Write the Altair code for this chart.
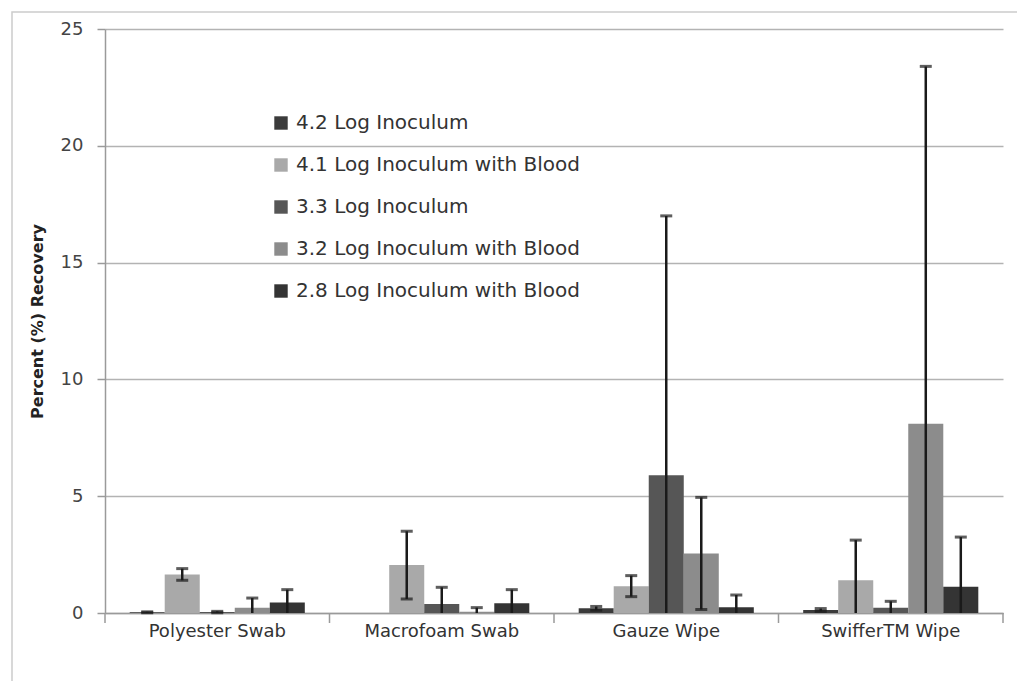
import altair as alt
import pandas as pd

categories = ["Polyester Swab", "Macrofoam Swab", "Gauze Wipe", "SwifferTM Wipe"]
series = [
    "4.2 Log Inoculum",
    "4.1 Log Inoculum with Blood",
    "3.3 Log Inoculum",
    "3.2 Log Inoculum with Blood",
    "2.8 Log Inoculum with Blood",
]
colors = ["#3b3b3b", "#a9a9a9", "#565656", "#8c8c8c", "#343434"]

# mean percent recovery per series, in category order
rec_42 = [0.03, 0.00, 0.20, 0.13]
rec_41 = [1.65, 2.05, 1.15, 1.40]
rec_33 = [0.04, 0.38, 5.90, 0.22]
rec_32 = [0.22, 0.05, 2.55, 8.10]
rec_28 = [0.45, 0.42, 0.25, 1.12]

# standard deviation per series, in category order
sd_42 = [0.02, 0.00, 0.08, 0.06]
sd_41 = [0.25, 1.45, 0.45, 1.72]
sd_33 = [0.03, 0.72, 11.10, 0.28]
sd_32 = [0.42, 0.18, 2.40, 15.30]
sd_28 = [0.55, 0.58, 0.52, 2.13]

y_ticks = [0, 5, 10, 15, 20, 25]
boundaries = [0, 1, 2, 3, 4]

means = [rec_42, rec_41, rec_33, rec_32, rec_28]
sds = [sd_42, sd_41, sd_33, sd_32, sd_28]

rows = []
for s, m_list, sd_list in zip(series, means, sds):
    for c, m, sd in zip(categories, m_list, sd_list):
        rows.append({
            "Category": c,
            "Series": s,
            "Recovery": m,
            "SD": sd,
            "Low": max(0.0, m - sd),
            "High": m + sd,
        })
df = pd.DataFrame(rows)

W, H = 898, 584
FONT = "DejaVu Sans"
YTITLE = "Percent (%) Recovery"

x_enc = alt.X(
    "Category:N",
    sort=categories,
    scale=alt.Scale(paddingInner=0.22, paddingOuter=0.11),
    axis=alt.Axis(
        title=None, ticks=False, grid=False, labelAngle=0,
        labelFont=FONT, labelFontSize=18, labelColor="#333333",
        labelPadding=9, domainColor="#9a9a9a", domainWidth=1.5,
    ),
)
xo_enc = alt.XOffset("Series:N", sort=series,
                     scale=alt.Scale(paddingInner=0, paddingOuter=0))
y_scale = alt.Scale(domain=[0, 25], nice=False)

base = alt.Chart(df).encode(x=x_enc, xOffset=xo_enc)

bars = base.mark_bar().encode(
    y=alt.Y(
        "Recovery:Q", scale=y_scale, title=YTITLE,
        axis=alt.Axis(
            values=y_ticks, grid=True, gridColor="#b3b3b3", gridWidth=1.5,
            domainColor="#9a9a9a", domainWidth=1.5, tickColor="#9a9a9a",
            tickSize=8, tickWidth=1.5, labelFont=FONT, labelFontSize=18,
            labelColor="#444444", labelPadding=14, titleFont=FONT,
            titleFontSize=16, titleFontWeight="bold", titleColor="#222222",
            titlePadding=15,
        ),
    ),
    color=alt.Color(
        "Series:N", sort=series,
        scale=alt.Scale(domain=series, range=colors),
        legend=alt.Legend(
            title=None, orient="none", legendX=166, legendY=84, padding=0,
            symbolType="square", symbolSize=180, symbolStrokeWidth=0,
            labelFont=FONT, labelFontSize=20, labelColor="#333333",
            labelOffset=5, rowPadding=22, labelLimit=500,
        ),
    ),
)

err = base.transform_filter("datum.SD > 0").mark_rule(
    color="#1a1a1a", strokeWidth=2.5
).encode(
    y=alt.Y("Low:Q", scale=y_scale, title=YTITLE),
    y2="High:Q",
)

cap_hi = base.transform_filter("datum.SD > 0").mark_tick(
    color="#1a1a1a", thickness=3, size=12
).encode(y=alt.Y("High:Q", scale=y_scale, title=YTITLE))

cap_lo = base.transform_filter(
    "datum.SD > 0 && datum.Recovery - datum.SD >= 0"
).mark_tick(color="#1a1a1a", thickness=3, size=12).encode(
    y=alt.Y("Low:Q", scale=y_scale, title=YTITLE)
)

plot = alt.layer(bars, err, cap_hi, cap_lo)

# category boundary tick marks under the x axis line
bounds = alt.Chart(pd.DataFrame({"b": boundaries})).mark_rule(
    color="#9a9a9a", strokeWidth=1.5
).encode(
    x=alt.X("b:Q", scale=alt.Scale(domain=[0, 4], nice=False), axis=None),
    y=alt.value(H),
    y2=alt.value(H + 10),
)

# thin frame around the whole figure
frame = alt.Chart(pd.DataFrame({"f": [0]})).mark_rect(
    fillOpacity=0, stroke="#cccccc", strokeWidth=1.5
).encode(
    x=alt.value(-93), x2=alt.value(W + 40),
    y=alt.value(-17), y2=alt.value(H + 120),
)

chart = alt.layer(frame, plot, bounds).resolve_scale(x="independent").properties(
    width=W, height=H,
    autosize=alt.AutoSizeParams(type="none"),
    padding={"left": 105, "top": 29, "right": 14, "bottom": 68},
    background="white",
).configure_view(stroke=None)

chart.save("out.html", embed_options={"renderer": "svg", "actions": False})
